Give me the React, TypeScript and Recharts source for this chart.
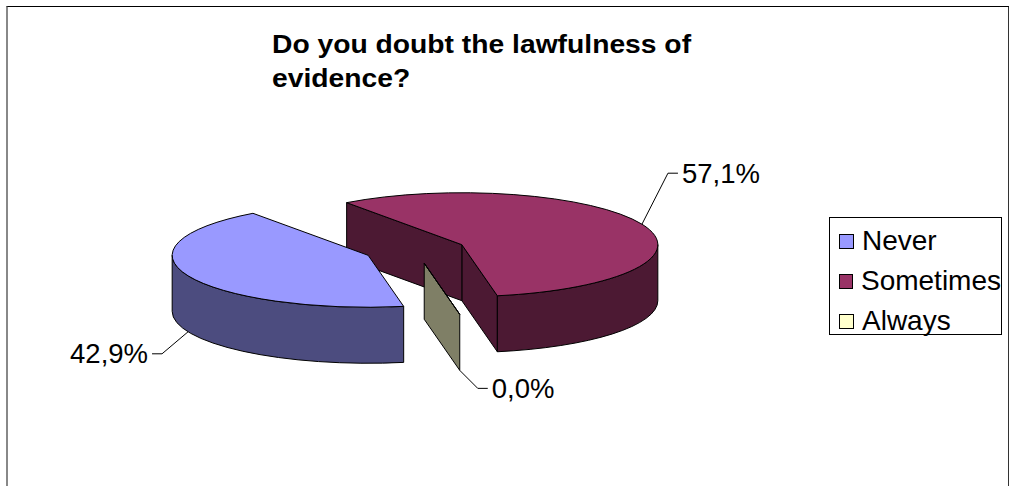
import React from 'react'
import { PieChart, Pie, Legend } from 'recharts'

const categories = ['Never', 'Sometimes', 'Always']
const shares = [42.9, 57.1, 0]
const topColors = ['#9999FF', '#993366', '#FFFFCC']
const sideColors = ['#4C4C7F', '#4C1933', '#7F7F66']
// back slices first, so the nearer ones overlap them
const drawOrder = [1, 2, 0]
const titleLines = ['Do you doubt the lawfulness of', 'evidence?']

const FONT = '"Liberation Sans", Arial, sans-serif'
const TILT = 0.265
const DEPTH = 56
const EXPLODE = 0.26

// where each leader line bends, relative to its anchor on the slice
const LEADER: Record<string, [number, number]> = {
  Never: [-26, 22],
  Sometimes: [26, -51],
  Always: [18, 18],
}

const rad = (a: number) => (a * Math.PI) / 180

const pieData = drawOrder.map((i) => ({
  name: categories[i],
  value: shares[i],
  fill: topColors[i],
}))

const geometry = (cx: number, cy: number, r: number, midAngle: number) => {
  const rx = r
  const ry = r * TILT
  const ox = cx + EXPLODE * rx * Math.cos(rad(midAngle))
  const oy = cy - EXPLODE * ry * Math.sin(rad(midAngle))
  const pt = (a: number, drop = 0): [number, number] => [
    ox + rx * Math.cos(rad(a)),
    oy - ry * Math.sin(rad(a)) + drop,
  ]
  return { rx, ry, ox, oy, pt }
}

const Slice3D = (props: any) => {
  const { cx, cy, outerRadius, startAngle, endAngle, midAngle } = props
  const name = props.payload?.name ?? props.name
  const idx = categories.indexOf(name)
  const top = topColors[idx]
  const side = sideColors[idx]
  const { rx, ry, ox, oy, pt } = geometry(cx, cy, outerRadius, midAngle)

  const span = Math.abs(endAngle - startAngle)
  const a0 = ((Math.min(startAngle, endAngle) % 360) + 360) % 360
  const a1 = a0 + span

  const walls: React.ReactNode[] = []
  const wall = (a: number, normal: number, key: string) => {
    if (Math.sin(rad(normal)) >= 0) return
    const [px, py] = pt(a)
    walls.push(
      <path
        key={key}
        d={`M${ox},${oy} L${px},${py} L${px},${py + DEPTH} L${ox},${oy + DEPTH} Z`}
        fill={side}
        stroke='#000'
      />
    )
  }
  wall(a0, a0 - 90, 'w0')
  if (span > 0) wall(a1, a1 + 90, 'w1')

  // curved outer side, only the half that faces the viewer
  const sides: React.ReactNode[] = []
  ;[
    [180, 360],
    [540, 720],
  ].forEach(([f0, f1], k) => {
    const b0 = Math.max(a0, f0)
    const b1 = Math.min(a1, f1)
    if (b1 - b0 <= 0.01) return
    const [x0, y0] = pt(b0)
    const [x1, y1] = pt(b1)
    sides.push(
      <path
        key={`s${k}`}
        d={`M${x0},${y0} A${rx},${ry} 0 0 0 ${x1},${y1} L${x1},${y1 + DEPTH} A${rx},${ry} 0 0 1 ${x0},${y0 + DEPTH} Z`}
        fill={side}
        stroke='#000'
      />
    )
  })

  const [sx, sy] = pt(a0)
  const [ex, ey] = pt(a1)
  const topPath =
    span > 0
      ? `M${ox},${oy} L${sx},${sy} A${rx},${ry} 0 ${span > 180 ? 1 : 0} 0 ${ex},${ey} Z`
      : `M${ox},${oy} L${sx},${sy} Z`

  return (
    <g>
      {walls}
      {sides}
      <path
        d={topPath}
        fill={top}
        stroke='#000'
      />
    </g>
  )
}

const renderLabel = (props: any) => {
  const { cx, cy, outerRadius, midAngle, percent } = props
  const name = props.payload?.name ?? props.name
  const { pt } = geometry(cx, cy, outerRadius, midAngle)
  const upper = Math.sin(rad(midAngle)) > 0
  const [ax, ay] = pt(midAngle, upper ? 0 : DEPTH)
  const [dx, dy] = LEADER[name]
  const dir = dx >= 0 ? 1 : -1
  const bx = ax + dx
  const by = ay + dy
  const endX = bx + dir * 10
  const text = `${(percent * 100).toFixed(1).replace('.', ',')}%`
  return (
    <g key={`label-${name}`}>
      <polyline
        points={`${ax},${ay} ${bx},${by} ${endX},${by}`}
        fill='none'
        stroke='#000'
      />
      <text
        x={endX + dir * 4}
        y={by}
        textAnchor={dir > 0 ? 'start' : 'end'}
        dominantBaseline='central'
        fontFamily={FONT}
        fontSize={27.5}
        fill='#000'
      >
        {text}
      </text>
    </g>
  )
}

const LegendBox = () => (
  <div
    style={{
      border: '1px solid #000',
      background: '#fff',
      padding: '3px 0 0 9px',
      height: 118,
      boxSizing: 'border-box',
      fontFamily: FONT,
      fontSize: 28,
      whiteSpace: 'nowrap',
    }}
  >
    {categories.map((c, i) => (
      <div
        key={c}
        style={{ display: 'flex', alignItems: 'center', height: 40 }}
      >
        <span
          style={{
            width: 13,
            height: 13,
            background: topColors[i],
            border: '1px solid #000',
            display: 'inline-block',
          }}
        />
        <span style={{ marginLeft: 8 }}>{c}</span>
      </div>
    ))}
  </div>
)

export default function App() {
  return (
    <div
      style={{
        position: 'absolute',
        left: 0,
        top: 0,
        width: 1009,
        height: 486,
        background: '#fff',
        overflow: 'hidden',
      }}
    >
      <div
        style={{
          position: 'absolute',
          left: 6,
          top: 6,
          width: 1000,
          height: 520,
          borderTop: '1px solid #000',
          borderRight: '2px solid #333',
          borderLeft: '2px solid #888',
        }}
      />
      <div
        style={{
          position: 'absolute',
          left: 272,
          top: 27,
          fontFamily: FONT,
          fontWeight: 'bold',
          fontSize: 25,
          lineHeight: '34px',
          transform: 'scaleX(1.13)',
          transformOrigin: 'left top',
          whiteSpace: 'nowrap',
        }}
      >
        {titleLines.map((l) => (
          <div key={l}>{l}</div>
        ))}
      </div>
      <div style={{ position: 'absolute', left: 0, top: 0 }}>
        <PieChart
          width={1009}
          height={486}
          margin={{ top: 0, right: 0, bottom: 0, left: 0 }}
        >
          <Pie
            data={pieData}
            dataKey='value'
            nameKey='name'
            cx={415}
            cy={250}
            outerRadius={196}
            startAngle={126}
            endAngle={-234}
            stroke='#000'
            shape={Slice3D}
            activeShape={Slice3D}
            inactiveShape={Slice3D}
            label={renderLabel}
            labelLine={false}
            isAnimationActive={false}
          />
          <Legend
            layout='vertical'
            align='right'
            verticalAlign='middle'
            content={LegendBox}
            wrapperStyle={{ left: 829, top: 217, width: 173, right: 'auto', bottom: 'auto' }}
          />
        </PieChart>
      </div>
    </div>
  )
}
